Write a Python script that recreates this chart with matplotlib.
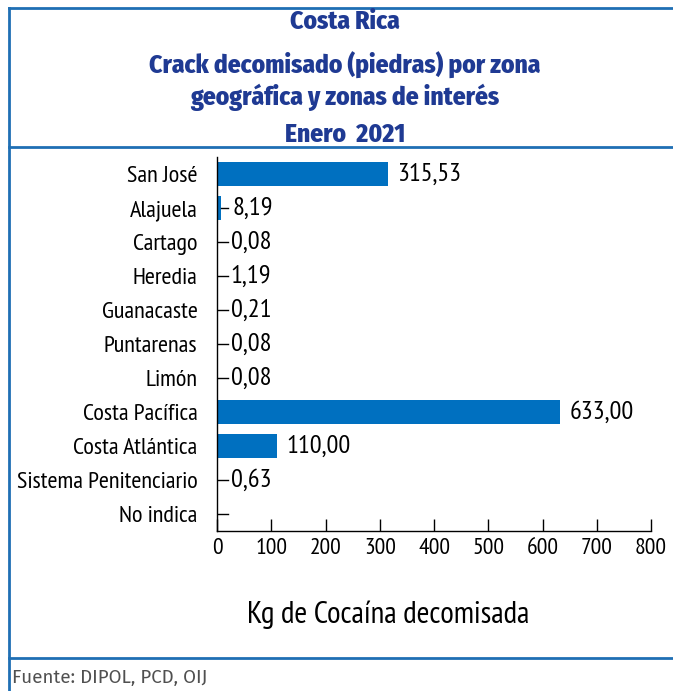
import matplotlib.pyplot as plt
from matplotlib.lines import Line2D

plt.rcParams['font.family'] = ['PT Sans Narrow', 'DejaVu Sans']

zonas = ["San José", "Alajuela", "Cartago", "Heredia", "Guanacaste", "Puntarenas",
         "Limón", "Costa Pacífica", "Costa Atlántica", "Sistema Penitenciario", "No indica"]
valores = [315.53, 8.19, 0.08, 1.19, 0.21, 0.08, 0.08, 633.00, 110.00, 0.63, 0.0]
etiquetas = ["315,53", "8,19", "0,08", "1,19", "0,21", "0,08", "0,08", "633,00", "110,00", "0,63", ""]
ticks_x = [0, 100, 200, 300, 400, 500, 600, 700, 800]

azul_barra = "#0070C0"
azul_titulo = "#1F3A93"
azul_marco = "#1F6FB4"

fig = plt.figure(figsize=(6.73, 6.91), dpi=100)
ax = fig.add_axes([217 / 673, 1 - 531 / 691, 434 / 673, 374 / 691])

pos = list(range(len(zonas)))
ax.barh(pos, valores, height=0.7, color=azul_barra)
ax.set_ylim(len(zonas) - 0.5, -0.5)
ax.set_xlim(0, 800)
ax.set_yticks(pos)
ax.set_yticklabels(zonas, fontsize=17.5)
ax.set_xticks(ticks_x)
ax.set_xticklabels([str(t) for t in ticks_x], fontsize=17)
ax.tick_params(axis='y', length=0, pad=14)
ax.tick_params(axis='x', direction='in', length=9, width=1, pad=5)
for s in ['top', 'right']:
    ax.spines[s].set_visible(False)
for s in ['left', 'bottom']:
    ax.spines[s].set_linewidth(1)
    ax.spines[s].set_color('black')

# etiquetas de valor con linea guia para los valores chicos
for i, (v, txt) in enumerate(zip(valores, etiquetas)):
    if v < 20:
        ax.plot([v, 20], [i, i], color='black', lw=1)
        ax.text(max(v + 20, 25), i, txt, va='center', ha='left', fontsize=19)
    else:
        ax.text(v + 17, i, txt, va='center', ha='left', fontsize=19)

fig.text(388 / 673, 1 - 615 / 691, "Kg de Cocaína decomisada", ha='center', va='center', fontsize=22.3)

titulos = [("Costa Rica", 22), ("Crack decomisado (piedras) por zona", 65),
           ("geográfica y zonas de interés", 97), ("Enero  2021", 135)]
for t, y in titulos:
    fig.text(345 / 673, 1 - y / 691, t, ha='center', va='center', fontsize=18.3,
             fontweight=800, color=azul_titulo, family=['Fira Sans Condensed', 'DejaVu Sans'])

fig.text(12 / 673, 1 - 678 / 691, "Fuente: DIPOL, PCD, OIJ", ha='left', va='center',
         fontsize=13.5, color='#505050', family=['Fira Sans', 'DejaVu Sans'], fontweight='normal')

# marco
fig.add_artist(Line2D([9 / 673, 9 / 673], [0, 1 - 8 / 691], color=azul_marco, lw=2))
for y in [8, 147, 658]:
    fig.add_artist(Line2D([9 / 673, 1], [1 - y / 691, 1 - y / 691], color=azul_marco, lw=2))

fig.savefig("out.png", dpi=100)
